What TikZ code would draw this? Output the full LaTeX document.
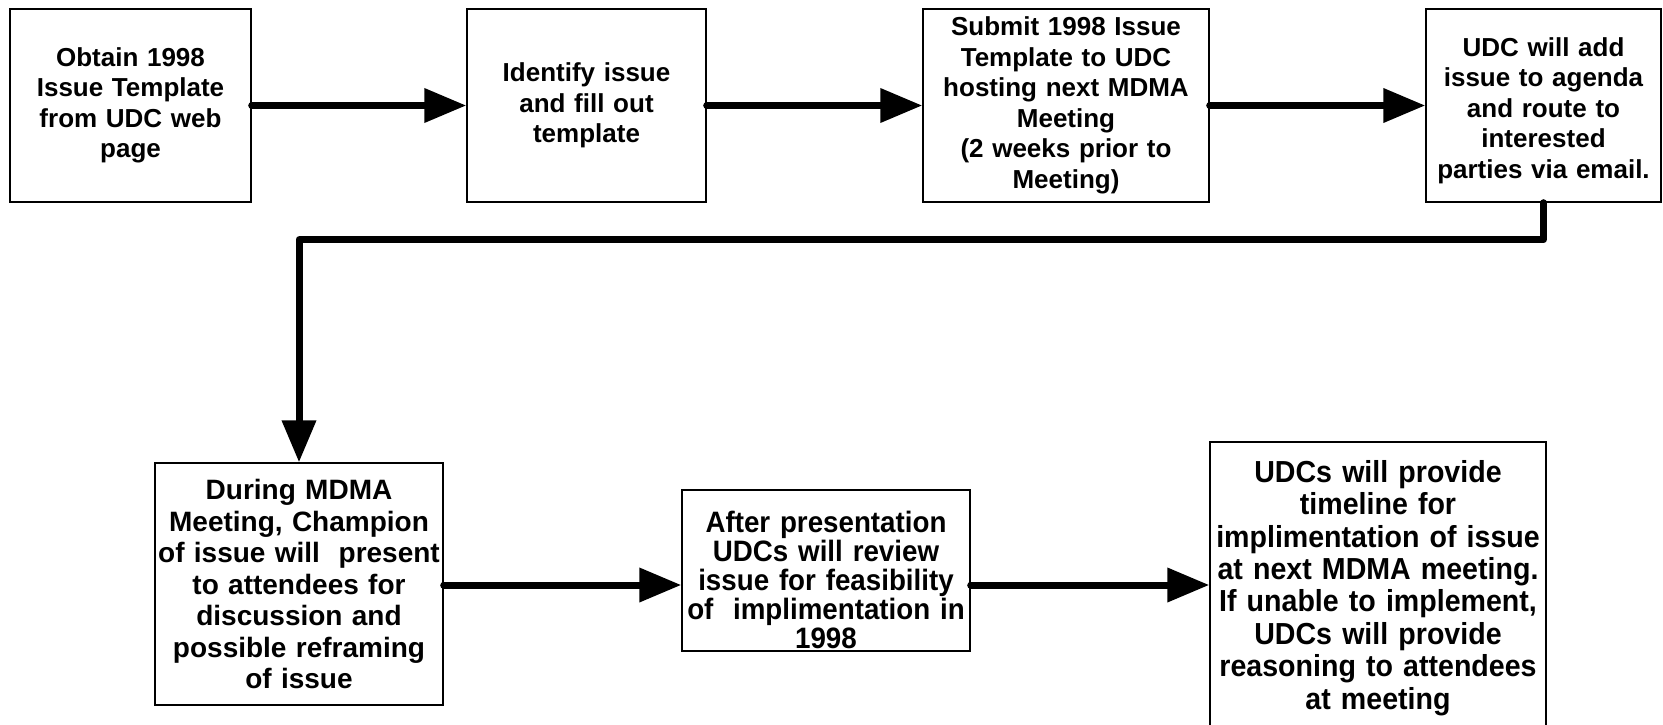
\documentclass[tikz,border=0pt]{standalone}
\usepackage{fontspec}
\setmainfont{Liberation Sans}
\newfontfamily\narrowfont[FakeStretch=0.94]{Liberation Sans}
\usetikzlibrary{arrows.meta}
\begin{document}
\begin{tikzpicture}[x=1pt,y=-1pt,
  box/.style={draw,line width=1.4pt,inner sep=0pt,align=center,
    font=\bfseries\fontsize{26}{30.5}\selectfont},
  txt/.style={inner sep=0pt,align=center},
  flow/.style={line width=7pt,line cap=round,line join=round,
    -{Triangle[length=42pt,width=33pt]}}]
\useasboundingbox (0,0) rectangle (1663,725);
\node[box,minimum width=241pt,minimum height=193pt,text width=235pt] (b1) at (130.5,105.5)
  {Obtain 1998\\Issue Template\\from UDC web\\page};
\node[box,minimum width=239pt,minimum height=193pt,text width=233pt] (b2) at (586.5,105.5)
  {Identify issue\\and fill out\\template};
\node[box,minimum width=286pt,minimum height=193pt,text width=280pt] (b3) at (1066,105.5)
  {Submit 1998 Issue\\Template to UDC\\hosting next MDMA\\Meeting\\(2 weeks prior to\\Meeting)};
\node[box,minimum width=235pt,minimum height=193pt] (b4) at (1543.5,105.5) {};
\node[txt,text width=233pt,font=\bfseries\fontsize{26}{30.5}\selectfont]
  (t4) at ([yshift=-5pt]b4.center)
  {UDC will add\\issue to agenda\\and route to\\interested\\parties via email.};
\node[box,minimum width=288pt,minimum height=242pt,text width=282pt,
  font=\bfseries\fontsize{28}{31.5}\selectfont] (b5) at (299,584)
  {During MDMA\\Meeting, Champion\\of issue will~ present\\to attendees for\\discussion and\\possible reframing\\of issue};
\node[box,minimum width=288pt,minimum height=161pt] (b6) at (826,570.5) {};
\node[txt,text width=282pt,font=\narrowfont\bfseries\fontsize{29.5}{29}\selectfont]
  (t6) at ([yshift=-9pt]b6.center)
  {After presentation\\UDCs will review\\issue for feasibility\\of~ implimentation in\\1998};
\node[box,minimum width=336pt,minimum height=286pt] (b7) at (1378,585) {};
\node[txt,text width=330pt,font=\narrowfont\bfseries\fontsize{30.4}{32.4}\selectfont]
  (t7) at ([yshift=-3pt]b7.center)
  {UDCs will provide\\timeline for\\implimentation of issue\\at next MDMA meeting.\\If unable to implement,\\UDCs will provide\\reasoning to attendees\\at meeting};
\draw[flow] (b1.east) -- (b2.west);
\draw[flow] (b2.east) -- (b3.west);
\draw[flow] (b3.east) -- (b4.west);
\draw[flow] (b4.south) -- ++(0,37) -| (b5.north);
\draw[flow] (b7.west -| b5.east) -- (b7.west -| b6.west);
\draw[flow] (b7.west -| b6.east) -- (b7.west);
\end{tikzpicture}
\end{document}
